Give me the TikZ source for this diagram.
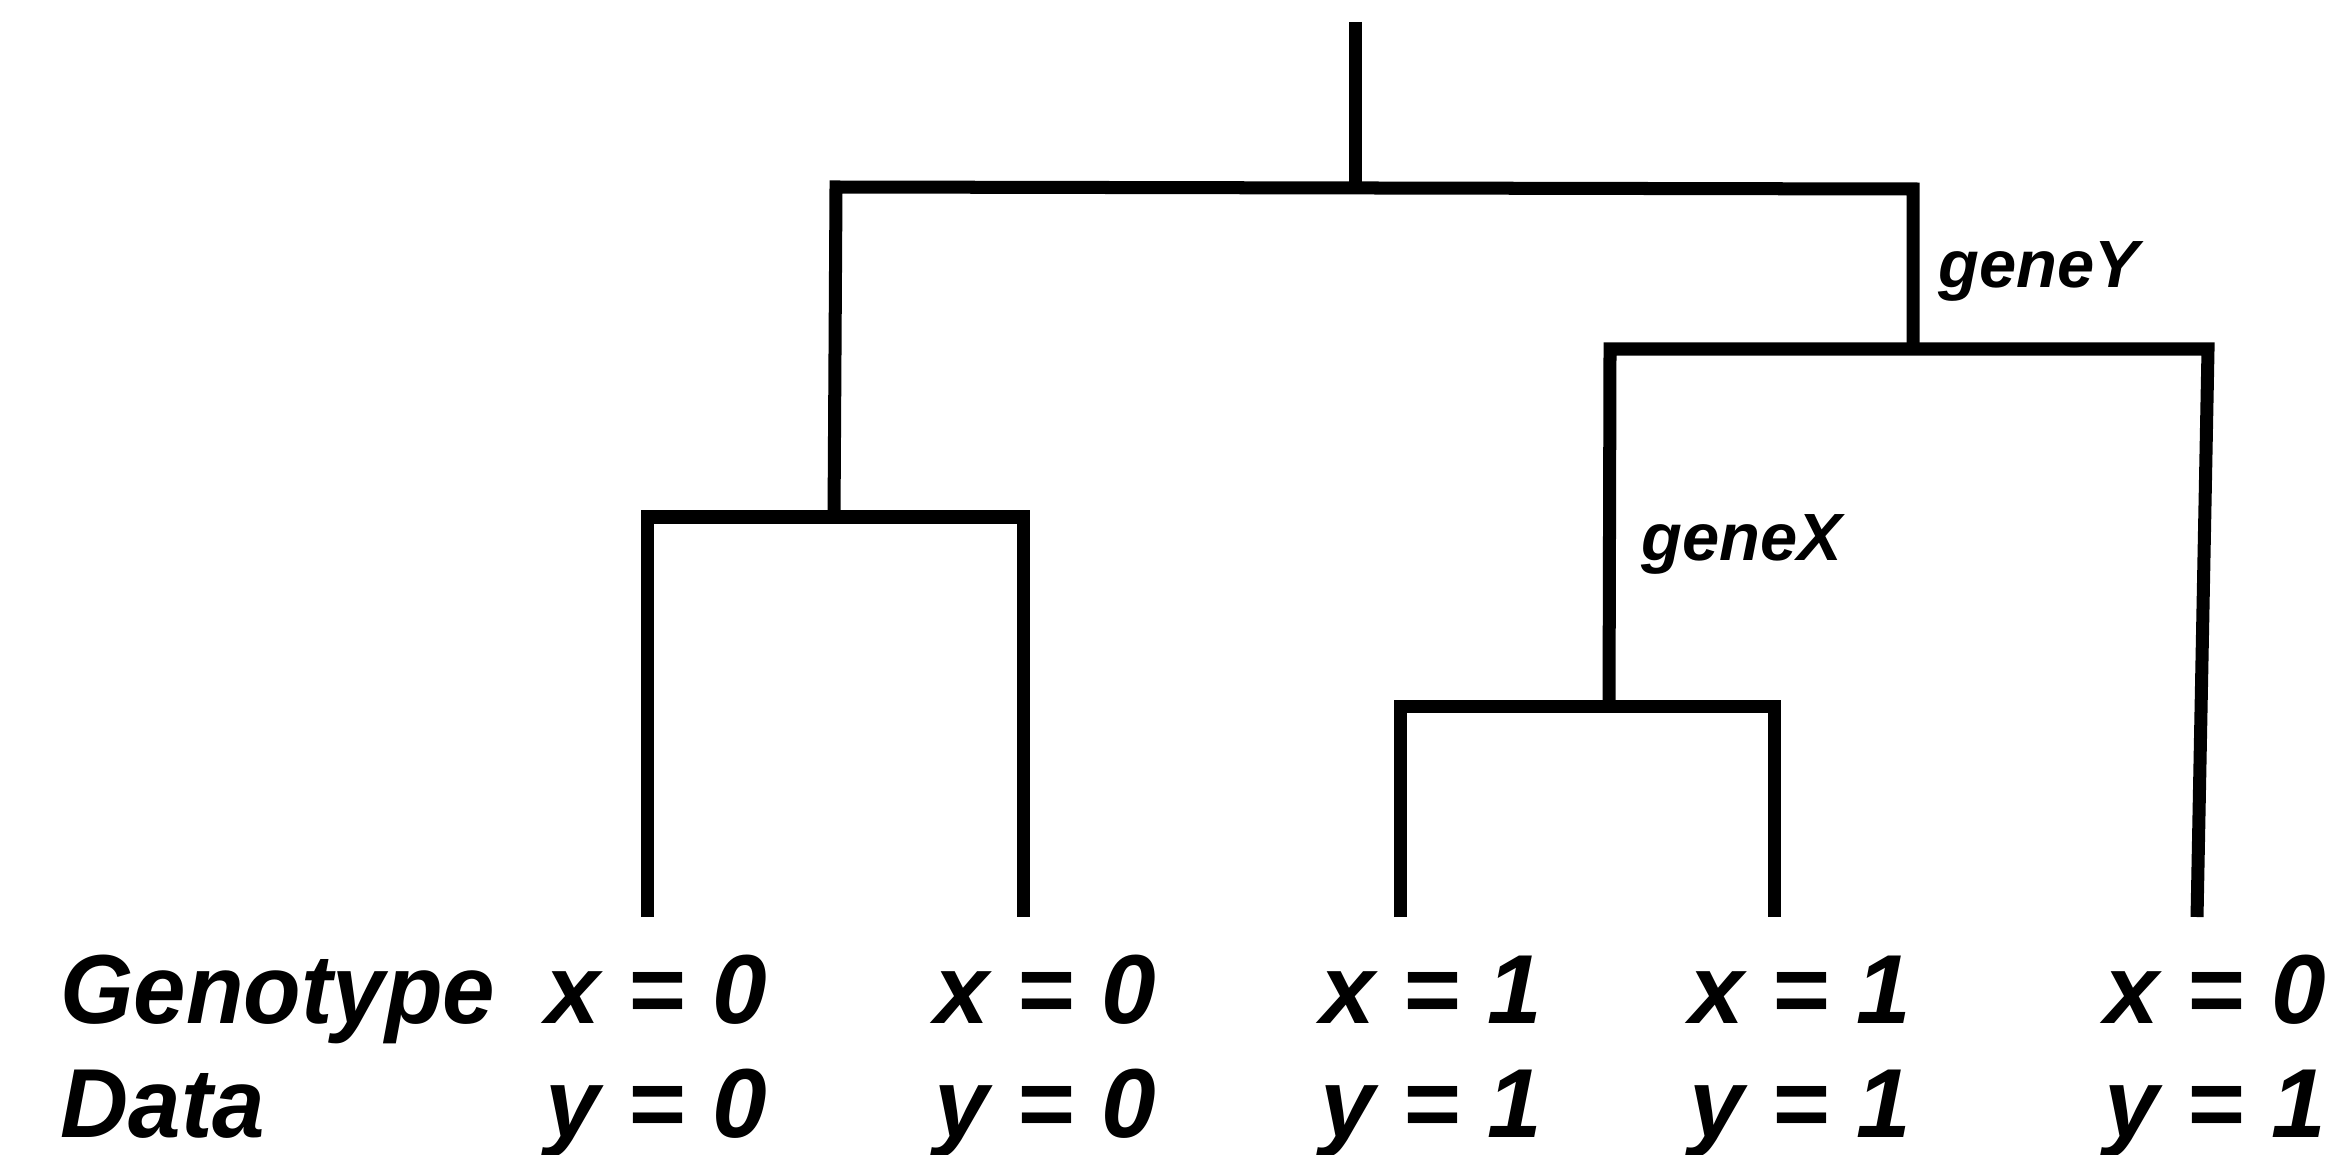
\documentclass[tikz,border=0pt]{standalone}
\usepackage{fontspec}
\setmainfont{Liberation Sans}
\begin{document}
\begin{tikzpicture}[x=0.01cm,y=-0.01cm]
\tikzset{
  branch/.style={line width=0.13cm, line join=miter, line cap=butt},
  bigtext/.style={font=\fontsize{27.9}{30}\selectfont\bfseries\itshape, inner sep=0pt, anchor=base west},
  genetext/.style={font=\fontsize{19}{21}\selectfont\bfseries\itshape, inner sep=0pt, anchor=base west}
}
\useasboundingbox (0,0) rectangle (2331,1155);
% junction coordinates
\coordinate (rootTop) at (1355,22);
\coordinate (root) at (1355,187);
\coordinate (topL) at (836,187);
\coordinate (topR) at (1913,189);
\coordinate (Lstem) at (834,517);
\coordinate (Rstem) at (1913,349);
\coordinate (LbarL) at (647,517);
\coordinate (LbarR) at (1023,517);
\coordinate (leaf1) at (647,917);
\coordinate (leaf2) at (1023,917);
\coordinate (RbarL) at (1610,349);
\coordinate (RbarR) at (2208,349);
\coordinate (Xstem) at (1609,706);
\coordinate (XbarL) at (1400,706);
\coordinate (XbarR) at (1774,706);
\coordinate (leaf3) at (1400,917);
\coordinate (leaf4) at (1774,917);
\coordinate (leaf5) at (2197,917);
% branches
\draw[branch] (rootTop) -- (root);
\draw[branch] (Lstem) -- (topL) -- (topR) -- (Rstem);
\draw[branch] (leaf1) -- (LbarL) -- (LbarR) -- (leaf2);
\draw[branch] (Xstem) -- (RbarL) -- (RbarR) -- (leaf5);
\draw[branch] (leaf3) -- (XbarL) -- (XbarR) -- (leaf4);
% gene labels
\node[genetext] (geneY) at (1938,288) {geneY};
\node[genetext] (geneX) at (1641,560) {geneX};
% bottom rows
\node[bigtext] (geno) at (60,1023) {\scalebox{0.96}[1]{Genotype}};
\node[bigtext] (data) at (60,1137) {\scalebox{0.96}[1]{Data}};
\node[bigtext] (x1) at (545,1023) {x = 0};
\node[bigtext] (x2) at (934,1023) {x = 0};
\node[bigtext] (x3) at (1320,1023) {x = 1};
\node[bigtext] (x4) at (1689,1023) {x = 1};
\node[bigtext] (x5) at (2104,1023) {x = 0};
\node[bigtext] (y1) at (545,1137) {y = 0};
\node[bigtext] (y2) at (934,1137) {y = 0};
\node[bigtext] (y3) at (1320,1137) {y = 1};
\node[bigtext] (y4) at (1689,1137) {y = 1};
\node[bigtext] (y5) at (2104,1137) {y = 1};
\end{tikzpicture}
\end{document}
